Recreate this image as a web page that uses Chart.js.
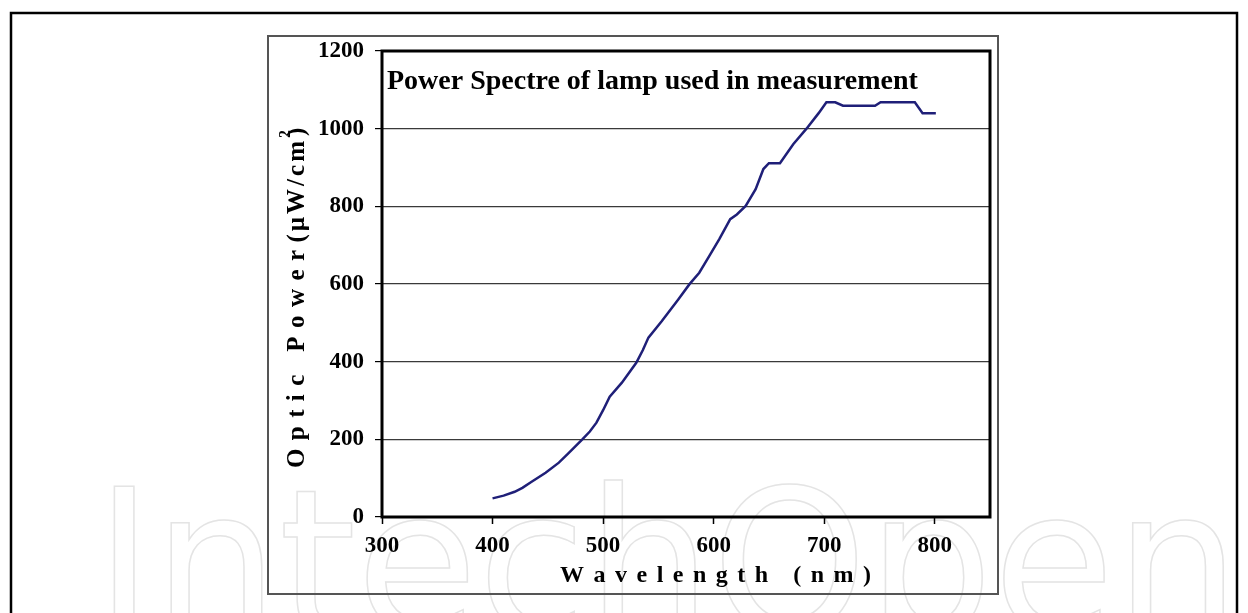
<!DOCTYPE html>
<html>
<head>
<meta charset="utf-8">
<script src="https://cdn.jsdelivr.net/npm/chart.js@4.4.1/dist/chart.umd.min.js"></script>
<style>
html, body { margin: 0; padding: 0; background: #fff; }
canvas { display: block; }
</style>
</head>
<body>
<canvas id="chart-area" width="1248" height="613"></canvas>
<script>
// values
var wavelength = [400, 410, 420, 427, 435, 448, 460, 469, 481, 488, 494, 500, 506, 517, 530, 536, 541, 553, 568, 578, 587, 596, 605, 615, 621, 629, 638, 645, 650, 660, 672, 684, 695, 702, 710, 717, 746, 751, 782, 789, 801];
var opticPower = [48, 55, 65, 75, 90, 114, 140, 165, 199, 220, 243, 275, 310, 346, 397, 430, 462, 504, 560, 599, 629, 672, 715, 767, 779, 801, 844, 896, 911, 911, 960, 1000, 1040, 1068, 1068, 1059, 1059, 1068, 1068, 1040, 1040];

var xTicks = [300, 400, 500, 600, 700, 800];
var yTicks = [0, 200, 400, 600, 800, 1000, 1200];

var chartTitle = 'Power Spectre of lamp used in measurement';
var xTitle = 'Wavelength (nm)';
var yTitleA = 'Optic Power';
var yTitleB = '(\u00b5W/cm';
var watermark = 'IntechOpen';

var serif = "'Liberation Serif', 'Times New Roman', serif";

var points = [];
for (var i = 0; i < wavelength.length; i++) {
	points.push({ x: wavelength[i], y: opticPower[i] });
}

// draws a string char by char with extra spacing, returns the end x
function spacedText(ctx, text, x, y, spacing) {
	for (var k = 0; k < text.length; k++) {
		ctx.fillText(text[k], x, y);
		x += ctx.measureText(text[k]).width + spacing;
	}
	return x;
}

var framePlugin = {
	id: 'frame',
	beforeDraw: function (chart) {
		var ctx = chart.ctx;
		ctx.save();
		ctx.fillStyle = '#fff';
		ctx.fillRect(0, 0, chart.width, chart.height);

		// faint watermark
		ctx.font = "400 200px 'DejaVu Sans'";
		var w = ctx.measureText(watermark).width;
		ctx.translate(95, 632);
		ctx.scale(1145 / w, 1);
		ctx.strokeStyle = '#e4e4e4';
		ctx.lineWidth = 1.5;
		ctx.strokeText(watermark, 0, 0);
		ctx.restore();

		ctx.save();
		// outer frame
		ctx.strokeStyle = '#000';
		ctx.lineWidth = 2.5;
		ctx.strokeRect(11, 13, 1226, 640);
		// chart box
		ctx.strokeStyle = '#555';
		ctx.lineWidth = 2;
		ctx.strokeRect(268, 36, 730, 558);
		ctx.restore();
	},
	afterDraw: function (chart) {
		var ctx = chart.ctx;
		var a = chart.chartArea;
		ctx.save();
		ctx.strokeStyle = '#000';
		ctx.lineWidth = 3;
		ctx.strokeRect(a.left, a.top, a.right - a.left, a.bottom - a.top);

		ctx.fillStyle = '#000';
		ctx.textBaseline = 'alphabetic';
		ctx.textAlign = 'left';

		// title inside the plot
		ctx.font = 'bold 28px ' + serif;
		ctx.fillText(chartTitle, a.left + 5, 89);

		// x axis title
		ctx.font = 'bold 24px ' + serif;
		spacedText(ctx, xTitle, 560, 582, 9.5);

		// y axis title, rotated
		ctx.translate(304, 468);
		ctx.rotate(-Math.PI / 2);
		ctx.font = 'bold 25px ' + serif;
		var x = spacedText(ctx, yTitleA, 0, 0, 8.4);
		x = spacedText(ctx, yTitleB, x - 1, 0, 3);
		ctx.font = 'bold 16px ' + serif;
		ctx.fillText('2', x, -14);
		ctx.font = 'bold 25px ' + serif;
		ctx.fillText(')', x + 2, 0);
		ctx.restore();
	}
};

function plainLabel(value) {
	return String(value);
}

var ctx = document.getElementById('chart-area').getContext('2d');

var config = {
	type: 'line',
	data: {
		datasets: [{
			data: points,
			borderColor: '#1f1f78',
			borderWidth: 2.5,
			pointRadius: 0,
			tension: 0,
			fill: false
		}]
	},
	options: {
		responsive: false,
		animation: false,
		devicePixelRatio: 1,
		layout: { padding: { left: 270, right: 258, top: 51, bottom: 18 } },
		plugins: {
			legend: { display: false },
			title: { display: false },
			tooltip: { enabled: false }
		},
		scales: {
			x: {
				type: 'linear',
				min: 300,
				max: 850,
				afterBuildTicks: function (s) {
					s.ticks = xTicks.map(function (v) { return { value: v }; });
				},
				afterFit: function (s) { s.height = 78; },
				grid: {
					drawOnChartArea: false,
					drawTicks: true,
					tickLength: 7,
					tickColor: '#000',
					tickWidth: 1.5
				},
				border: { display: false },
				ticks: {
					color: '#000',
					padding: 8,
					maxRotation: 0,
					callback: plainLabel,
					font: { family: serif, size: 23, weight: 'bold' }
				}
			},
			y: {
				min: 0,
				max: 1200,
				afterBuildTicks: function (s) {
					s.ticks = yTicks.map(function (v) { return { value: v }; });
				},
				afterFit: function (s) { s.width = 112; },
				grid: {
					color: '#3a3a3a',
					lineWidth: 1.2,
					drawTicks: true,
					tickLength: 7,
					tickColor: '#000'
				},
				border: { display: false },
				ticks: {
					color: '#000',
					padding: 11,
					callback: plainLabel,
					font: { family: serif, size: 23, weight: 'bold' }
				}
			}
		}
	},
	plugins: [framePlugin]
};

window.myLine = new Chart(ctx, config);
</script>
</body>
</html>
